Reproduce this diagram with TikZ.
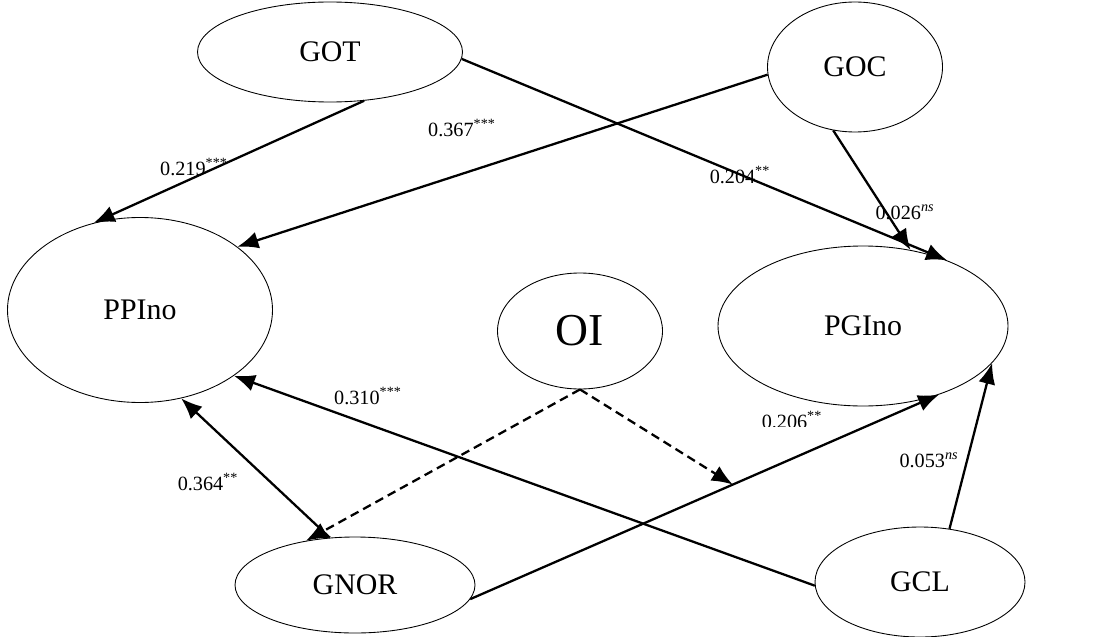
\documentclass[tikz,border=0pt]{standalone}
\usepackage{fontspec}
\setmainfont{Liberation Serif}
\usetikzlibrary{shapes.geometric,arrows.meta}
\tikzset{
  latent/.style={draw,ellipse,inner sep=0pt,line width=0.5pt,font=\fontsize{17}{20}\selectfont},
  effect/.style={line width=1.3pt,-{Latex[length=4.2mm,width=3.4mm]}},
  moder/.style={effect,dash pattern=on 5pt off 3pt},
  coef/.style={inner sep=0pt,font=\fontsize{11.5}{13}\selectfont},
}
\begin{document}
\begin{tikzpicture}
\useasboundingbox (0,0) rectangle (21.92,12.72);
\node [latent,minimum width=5.3cm,minimum height=2.0cm] (got) at(6.6,11.68){GOT};
\node [latent,minimum width=3.5cm,minimum height=2.6cm] (goc) at(17.1,11.38){GOC};
\node [latent,minimum width=5.3cm,minimum height=3.7cm] (ppi) at(2.8,6.52){PPIno};
\node [latent,minimum width=3.3cm,minimum height=2.32cm,font=\fontsize{26}{30}\selectfont] (oi) at(11.6,6.1){OI};
\node [latent,minimum width=5.8cm,minimum height=3.2cm] (pgi) at(17.26,6.2){PGIno};
\node [latent,minimum width=4.8cm,minimum height=1.92cm] (gnor) at(7.1,1.02){GNOR};
\node [latent,minimum width=4.2cm,minimum height=2.2cm] (gcl) at(18.4,1.08){GCL};
%coefficients (two of them are cut off at the bottom)
\begin{scope}
\clip (3.0,9.2) rectangle (4.8,9.8);
\node [coef] (c1) at(3.88,9.38){0.219\textsuperscript{***}};
\end{scope}
\node [coef] (c2) at(9.24,10.16){0.367\textsuperscript{***}};
\node [coef] (c3) at(14.8,9.22){0.204\textsuperscript{**}};
\node [coef] (c4) at(18.1,8.48){0.026\textsuperscript{\textit{ns}}};
\node [coef] (c5) at(7.36,4.8){0.310\textsuperscript{***}};
\begin{scope}
\clip (15.0,4.19) rectangle (16.7,4.7);
\node [coef] (c6) at(15.84,4.32){0.206\textsuperscript{**}};
\end{scope}
\node [coef] (c7) at(4.16,3.08){0.364\textsuperscript{**}};
\node [coef] (c8) at(18.58,3.52){0.053\textsuperscript{\textit{ns}}};
%paths
\draw[effect](got.-55) -- (ppi.118);
\draw[effect](goc.185) -- (ppi.33);
\draw[effect](got.-3.6) -- (pgi.38);
\draw[effect](goc.-109) -- (pgi.58);
\draw[effect](gcl.182) -- (ppi.-35);
\draw[effect](gnor.118) -- (ppi.-65);
\draw[effect](gnor.-7) -- coordinate[pos=0.56] (med) (pgi.-42);
\draw[effect](gcl.61) -- (pgi.-16);
\draw[moder](oi.-90) -- (gnor.138);
\draw[moder](oi.-90) -- (med);
\end{tikzpicture}
\end{document}
